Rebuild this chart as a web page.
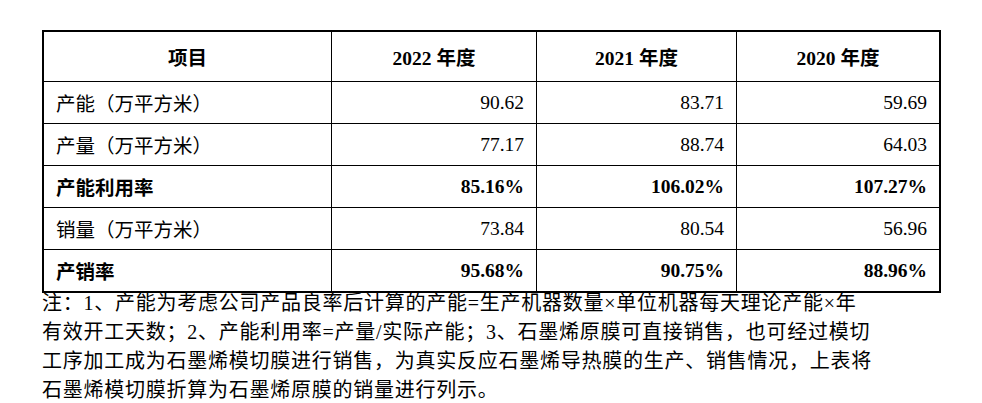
<!DOCTYPE html>
<html>
<head>
<meta charset="utf-8">
<script src="https://cdn.jsdelivr.net/npm/chart.js@4"></script>
<style>
  body { margin: 0; background: #fff; width: 982px; height: 403px; overflow: hidden;
         font-family: "Liberation Serif", "Noto Sans CJK SC", serif; color: #000; }
  table { position: absolute; left: 42px; top: 30px; border-collapse: collapse;
          border: 2px solid #000; table-layout: fixed; }
  td, th { border: 1px solid #000; font-size: 19.5px; height: 41px; padding: 0 12px; }
  th { height: 49px; font-weight: bold; text-align: center; }
  td.num { text-align: right; }
  td.name { text-align: left; }
  tr.bold td { font-weight: bold; }
  #note { position: absolute; left: 42px; top: 289px; width: 920px; font-size: 20px;
          letter-spacing: 0.75px; line-height: 29px; white-space: nowrap; }
</style>
</head>
<body>
<table id="tbl"></table>
<div id="note"></div>
<script>
const headers = ["项目", "2022 年度", "2021 年度", "2020 年度"];
const rowNames = ["产能（万平方米）", "产量（万平方米）", "产能利用率", "销量（万平方米）", "产销率"];
const values2022 = ["90.62", "77.17", "85.16%", "73.84", "95.68%"];
const values2021 = ["83.71", "88.74", "106.02%", "80.54", "90.75%"];
const values2020 = ["59.69", "64.03", "107.27%", "56.96", "88.96%"];
const boldRows = [2, 4];
const colWidths = [288, 205, 200, 203];
const noteLines = [
  "注：1、产能为考虑公司产品良率后计算的产能=生产机器数量×单位机器每天理论产能×年",
  "有效开工天数；2、产能利用率=产量/实际产能；3、石墨烯原膜可直接销售，也可经过模切",
  "工序加工成为石墨烯模切膜进行销售，为真实反应石墨烯导热膜的生产、销售情况，上表将",
  "石墨烯模切膜折算为石墨烯原膜的销量进行列示。"
];

const tbl = document.getElementById("tbl");
let html = "<tr>" + headers.map((h, i) =>
  `<th style="width:${colWidths[i] - 25}px">${h}</th>`).join("") + "</tr>";
rowNames.forEach((name, i) => {
  html += `<tr class="${boldRows.includes(i) ? "bold" : ""}"><td class="name">${name}</td>` +
    [values2022[i], values2021[i], values2020[i]].map(v => `<td class="num">${v}</td>`).join("") +
    "</tr>";
});
tbl.innerHTML = html;
document.getElementById("note").innerHTML = noteLines.join("<br>");
</script>
</body>
</html>
